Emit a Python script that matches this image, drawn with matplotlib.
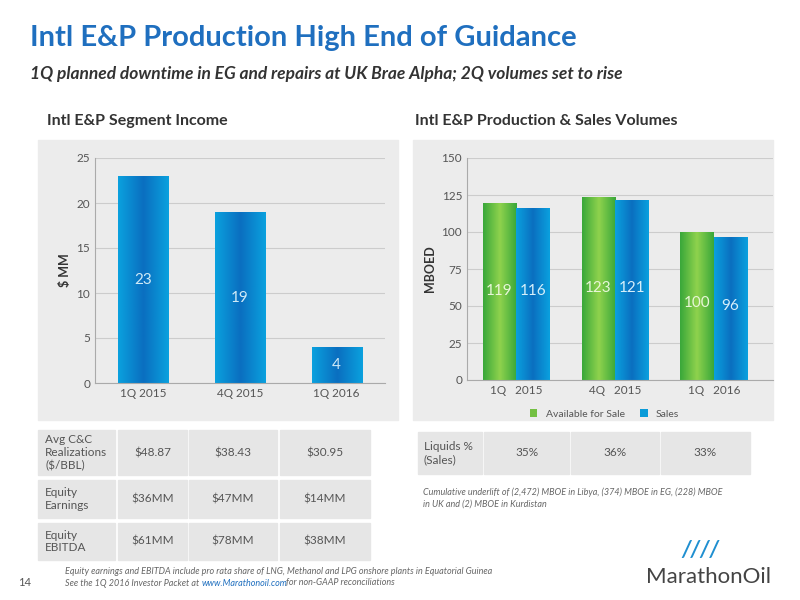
import numpy as np
import matplotlib.pyplot as plt
from matplotlib.patches import Rectangle
from matplotlib.colors import LinearSegmentedColormap

# data
quarters = ["1Q 2015", "4Q 2015", "1Q 2016"]
income = [23, 19, 4]
avail = [119, 123, 100]
sales = [116, 121, 96]
left_rows = ["Avg C&C\nRealizations\n($/BBL)", "Equity\nEarnings", "Equity\nEBITDA"]
left_vals = [["$48.87", "$38.43", "$30.95"],
             ["$36MM", "$47MM", "$14MM"],
             ["$61MM", "$78MM", "$38MM"]]
liquids = ["35%", "36%", "33%"]

W, H = 800, 600
TITLE = "#1f6fbf"
BLUE = "#0a9bd8"
GREEN = "#74c043"
BG = "#ececec"
TXT = "#555555"
plt.rcParams["font.family"] = ["Lato", "DejaVu Sans"]

fig = plt.figure(figsize=(8, 6), dpi=100)


def fx(x): return x / W
def fy(y): return 1 - y / H


def box(x0, y0, x1, y1, color=BG):
    fig.patches.append(Rectangle((fx(x0), fy(y1)), fx(x1 - x0), (y1 - y0) / H,
                                 transform=fig.transFigure, color=color, zorder=-5))


def grad_bars(ax, xs, hs, w, c_light, c_dark):
    cmap = LinearSegmentedColormap.from_list("g", [c_light, c_dark, c_light])
    for x, h in zip(xs, hs):
        ax.imshow(np.linspace(0, 1, 50)[None, :], cmap=cmap, aspect="auto",
                  extent=(x - w / 2, x + w / 2, 0, h), zorder=2)


fig.text(fx(30), fy(38), "Intl E&P Production High End of Guidance", color=TITLE,
         fontsize=21, fontweight="bold", va="center")
fig.text(fx(30), fy(74), "1Q planned downtime in EG and repairs at UK Brae Alpha; 2Q volumes set to rise",
         color="#333333", fontsize=12.5, fontweight="bold", style="italic", va="center")
fig.text(fx(47), fy(121), "Intl E&P Segment Income", fontsize=11.5, fontweight="bold", color="#333333", va="center")
fig.text(fx(415), fy(121), "Intl E&P Production & Sales Volumes", fontsize=11.5, fontweight="bold", color="#333333", va="center")

# left chart
box(38, 140, 398, 420)
ax1 = fig.add_axes([fx(95), fy(383), fx(290), (383 - 158) / H])
ax1.set_facecolor("none")
x = np.arange(3)
grad_bars(ax1, x, income, 0.52, "#0aa0de", "#0a6fc0")
for i, v in enumerate(income):
    ax1.text(i, v / 2, str(v), ha="center", va="center", color="#cfeaf7", fontsize=11, zorder=3)
ax1.set_xlim(-0.5, 2.5)
ax1.set_ylim(0, 25)
ax1.set_yticks(range(0, 26, 5))
ax1.set_xticks(x, quarters)
ax1.set_ylabel("$ MM", fontsize=9, fontweight="bold", color="#333333")
ax1.grid(axis="y", color="#cccccc", lw=0.8, zorder=0)

# right chart
box(413, 140, 773, 420)
ax2 = fig.add_axes([fx(467), fy(380), fx(306), (380 - 158) / H])
ax2.set_facecolor("none")
bw = 0.34
grad_bars(ax2, x - bw / 2, avail, bw, "#3aa83a", "#8fd24d")
grad_bars(ax2, x + bw / 2, sales, bw, "#0aa0de", "#0a6fc0")
for i in range(3):
    ax2.text(i - bw / 2, [60, 62, 52][i], str(avail[i]), ha="center", va="center", color="#e8f6d8", fontsize=11, zorder=3)
    ax2.text(i + bw / 2, [60, 62, 50][i], str(sales[i]), ha="center", va="center", color="#d5effa", fontsize=11, zorder=3)
ax2.set_xlim(-0.5, 2.6)
ax2.set_ylim(0, 150)
ax2.set_yticks(range(0, 151, 25))
ax2.set_xticks(x, ["1Q   2015", "4Q   2015", "1Q   2016"])
ax2.set_ylabel("MBOED", fontsize=9, fontweight="bold", color="#333333")
ax2.grid(axis="y", color="#cccccc", lw=0.8, zorder=0)
ax2.bar([0], [0], color=GREEN, label="Available for Sale")
ax2.bar([0], [0], color=BLUE, label="Sales")
ax2.legend(loc="upper center", bbox_to_anchor=(0.45, -0.09), ncol=2, frameon=False,
           fontsize=7.5, handlelength=0.7, handleheight=0.7, labelcolor=TXT, columnspacing=1.5)

for ax in (ax1, ax2):
    ax.set_axisbelow(True)
    for s in ("top", "right"):
        ax.spines[s].set_visible(False)
    ax.spines["left"].set_color("#aaaaaa")
    ax.spines["bottom"].set_color("#aaaaaa")
    ax.tick_params(colors=TXT, labelsize=8.5, length=0)

# left table
cols = [(38, 115), (118, 187), (189, 277), (280, 370)]
rows = [(430, 475), (480, 518), (523, 560)]
for r, (y0, y1) in enumerate(rows):
    for c, (x0, x1) in enumerate(cols):
        box(x0, y0, x1, y1, "#e6e6e6")
        t = left_rows[r] if c == 0 else left_vals[r][c - 1]
        fig.text(fx(x0 + 7 if c == 0 else (x0 + x1) / 2), fy((y0 + y1) / 2), t,
                 ha="left" if c == 0 else "center", va="center", fontsize=8.5, color=TXT, linespacing=1.2)

# right table
rcols = [(418, 482), (484, 569), (571, 659), (661, 750)]
for c, (x0, x1) in enumerate(rcols):
    box(x0, 432, x1, 474, "#e6e6e6")
    t = "Liquids %\n(Sales)" if c == 0 else liquids[c - 1]
    fig.text(fx(x0 + 6 if c == 0 else (x0 + x1) / 2), fy(453), t,
             ha="left" if c == 0 else "center", va="center", fontsize=8.5, color=TXT)
fig.text(fx(423), fy(498), "Cumulative underlift of (2,472) MBOE in Libya, (374) MBOE in EG, (228) MBOE\nin UK and (2) MBOE in Kurdistan",
         fontsize=6.5, style="italic", color="#666666", va="center", linespacing=1.4)

# footer
fig.text(fx(18), fy(583), "14", fontsize=8, color=TXT, va="center")
fig.text(fx(65), fy(572), "Equity earnings and EBITDA include pro rata share of LNG, Methanol and LPG onshore plants in Equatorial Guinea",
         fontsize=6.5, style="italic", color="#666666", va="center")
fig.text(fx(65), fy(583), "See the 1Q 2016 Investor Packet at", fontsize=6.5, style="italic", color="#666666", va="center")
fig.text(fx(202), fy(583), "www.Marathonoil.com", fontsize=6.5, style="italic", color="#1f6fbf", va="center")
fig.text(fx(286), fy(583), "for non-GAAP reconciliations", fontsize=6.5, style="italic", color="#666666", va="center")
fig.text(fx(700), fy(550), "////", fontsize=16, fontweight="bold", style="italic", color="#1f8fd0", ha="center", va="center")
fig.text(fx(708), fy(577), "MarathonOil", fontsize=16, color="#444444", ha="center", va="center")

fig.savefig("out.png", dpi=100, facecolor="white")
